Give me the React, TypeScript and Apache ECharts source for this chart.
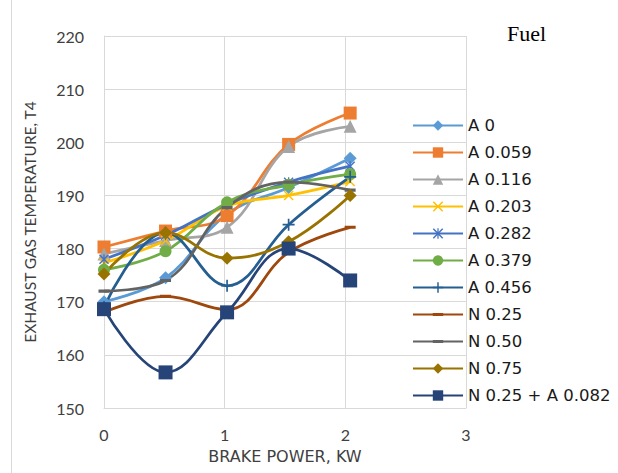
import React, { useEffect, useRef } from "react";
import * as echarts from "echarts";

const xValues = [0, 0.51, 1.02, 1.53, 2.04];
const seriesNames = [
  "A 0",
  "A 0.059",
  "A 0.116",
  "A 0.203",
  "A 0.282",
  "A 0.379",
  "A 0.456",
  "N 0.25",
  "N 0.50",
  "N 0.75",
  "N 0.25 + A 0.082",
];
const a0 = [170, 174.5, 186.5, 191.5, 197];
const a059 = [180.3, 183.3, 186.2, 199.6, 205.5];
const a116 = [179, 181.5, 184, 199.2, 203];
const a203 = [177.3, 181.5, 188, 190, 192.6];
const a282 = [178, 182.5, 188.3, 192.5, 195.5];
const a379 = [176, 179.5, 188.7, 192, 194];
const a456 = [169, 183, 173, 184.5, 193.5];
const n025 = [168, 171, 168.5, 179.3, 184];
const n050 = [172, 174, 187.7, 192.5, 191];
const n075 = [175.2, 183, 178.2, 181.3, 190];
const n025a082 = [168.6, 156.7, 168, 180, 174];
const yTicks = [150, 160, 170, 180, 190, 200, 210, 220];
const xTicks = [0, 1, 2, 3];

const colors = [
  "#5B9BD5",
  "#ED7D31",
  "#A5A5A5",
  "#FFC000",
  "#4472C4",
  "#70AD47",
  "#255E91",
  "#9E480E",
  "#636363",
  "#997300",
  "#264478",
];

const X_PATH =
  "path://M0,1 L1,0 L5,4 L9,0 L10,1 L6,5 L10,9 L9,10 L5,6 L1,10 L0,9 L4,5 Z";
const PLUS_PATH =
  "path://M4.3,0 H5.7 V4.3 H10 V5.7 H5.7 V10 H4.3 V5.7 H0 V4.3 H4.3 Z";
const STAR_PATH =
  "path://M0,1 L1,0 L5,4 L9,0 L10,1 L6,5 L10,9 L9,10 L5,6 L1,10 L0,9 L4,5 Z M4.4,0 H5.6 V10 H4.4 Z";
const DASH_PATH =
  "path://M0,0 L0.01,0 L0,0.01 Z M0,3.6 H10 V6.4 H0 Z M10,10 L9.99,10 L10,9.99 Z";

const symbols: any[] = [
  ["diamond", 13],
  ["rect", 13],
  ["triangle", 13],
  [X_PATH, 10],
  [STAR_PATH, 10],
  ["circle", 12],
  [PLUS_PATH, 12],
  [DASH_PATH, 11],
  [DASH_PATH, 11],
  ["diamond", 13],
  ["rect", 14],
];

const allData = [a0, a059, a116, a203, a282, a379, a456, n025, n050, n075, n025a082];

export default function App() {
  const ref = useRef<HTMLDivElement>(null);
  useEffect(() => {
    if (!ref.current) return;
    const chart = echarts.init(ref.current, undefined, { renderer: "svg" });
    const font = "Lato";
    chart.setOption({
      animation: false,
      backgroundColor: "#ffffff",
      title: {
        text: "Fuel",
        left: 502,
        top: 17,
        textStyle: {
          fontFamily: "Liberation Serif",
          fontWeight: "normal",
          fontSize: 22,
          color: "#000000",
        },
      },
      graphic: [
        {
          type: "line",
          shape: { x1: 11.5, y1: 0, x2: 11.5, y2: 473 },
          style: { stroke: "#d9d9d9", lineWidth: 1 },
        },
      ],
      legend: {
        orient: "vertical",
        left: 407,
        top: 112,
        itemWidth: 50,
        itemHeight: 13,
        itemGap: 10,
        data: seriesNames,
        textStyle: {
          fontFamily: "DejaVu Sans",
          fontSize: 16.5,
          lineHeight: 14,
          color: "#1a1a1a",
        },
      },
      grid: { left: 104, right: 152, top: 36, bottom: 65 },
      xAxis: {
        type: "value",
        min: xTicks[0],
        max: xTicks[xTicks.length - 1],
        interval: 1,
        name: "BRAKE POWER, KW",
        nameLocation: "middle",
        nameGap: 40,
        nameTextStyle: { fontFamily: "DejaVu Sans", fontSize: 16, color: "#404040" },
        axisLine: { lineStyle: { color: "#d9d9d9" } },
        axisTick: { show: false },
        splitLine: { show: true, lineStyle: { color: "#d9d9d9" } },
        axisLabel: {
          fontFamily: font,
          fontSize: 16,
          color: "#404040",
          margin: 18,
        },
      },
      yAxis: {
        type: "value",
        min: yTicks[0],
        max: yTicks[yTicks.length - 1],
        interval: 10,
        name: "EXHAUST GAS TEMPERATURE, T4",
        nameLocation: "middle",
        nameGap: 66,
        nameTextStyle: { fontFamily: font, fontSize: 15.5, color: "#404040" },
        axisLine: { show: true, lineStyle: { color: "#d9d9d9" } },
        axisTick: { show: false },
        splitLine: { show: true, lineStyle: { color: "#d9d9d9" } },
        axisLabel: {
          fontFamily: font,
          fontSize: 16,
          color: "#404040",
          margin: 20,
        },
      },
      series: allData.map((vals, i) => ({
        name: seriesNames[i],
        type: "line",
        smooth: 0.4,
        data: vals.map((v, j) => [xValues[j], v]),
        symbol: symbols[i][0],
        symbolSize: symbols[i][1],
        symbolKeepAspect: false,
        showAllSymbol: true,
        color: colors[i],
        lineStyle: { width: 2.75, color: colors[i] },
        itemStyle: { color: colors[i], borderColor: colors[i], borderWidth: 0 },
        emphasis: { disabled: true },
      })),
    });
    return () => chart.dispose();
  }, []);
  return (
    <div
      ref={ref}
      style={{ position: "absolute", left: 0, top: 0, width: 618, height: 473 }}
    />
  );
}
